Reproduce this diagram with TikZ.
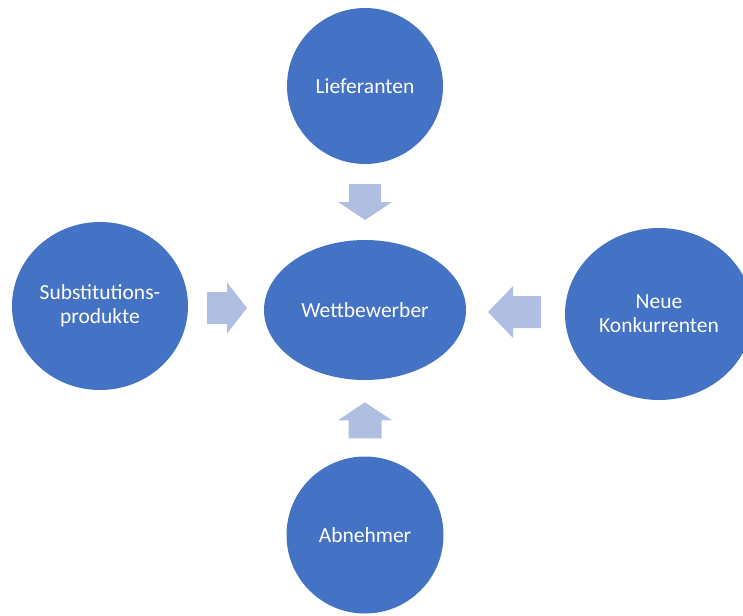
\documentclass[tikz,border=0pt]{standalone}
\usepackage{fontspec}
\setmainfont{Carlito}
\usetikzlibrary{shapes.geometric,calc}

\definecolor{kreisblau}{RGB}{68,114,196}
\definecolor{pfeilblau}{RGB}{176,190,226}

\tikzset{
  kraft/.style={ellipse,fill=kreisblau,text=white,inner sep=0pt,align=center,
    font=\fontsize{21.5}{24}\selectfont},
  pfeil/.style={fill=pfeilblau}
}

\begin{document}
\begin{tikzpicture}[x=1pt,y=-1pt]
  \useasboundingbox (0,0) rectangle (743,615);
  % die fuenf Kraefte
  \node[kraft,minimum width=202pt,minimum height=140pt] (wett) at (365,310) {Wettbewerber};
  \node[kraft,minimum size=156pt] (lief) at (365,86) {Lieferanten};
  \node[kraft,minimum width=176pt,minimum height=168pt] (subst) at (100,306) {Substitutions-\\produkte};
  \node[kraft,minimum width=188pt,minimum height=172pt] (neue) at (659,314) {Neue\\Konkurrenten};
  \node[kraft,minimum size=157pt] (abn) at (365,535) {Abnehmer};
  % Pfeile zur Mitte
  \coordinate (m1) at ($(lief.south)!0.5!(wett.north)$);
  \coordinate (m2) at ($(subst.east)!0.5!(wett.west)$);
  \coordinate (m3) at ($(neue.west)!0.5!(wett.east)$);
  \coordinate (m4) at ($(abn.north)!0.5!(wett.south)$);
  \fill[pfeil,shift={(m1)},rotate=-90] (-18,-16) -- (0,-16) -- (0,-27) -- (18,0) -- (0,27) -- (0,16) -- (-18,16) -- cycle;
  \fill[pfeil,shift={(m2)}] (-19,-16) -- (1,-16) -- (1,-25.5) -- (21,0) -- (1,25.5) -- (1,16) -- (-19,16) -- cycle;
  \fill[pfeil,shift={(m3)},rotate=180] (-25.5,-16) -- (2.5,-16) -- (2.5,-26) -- (27.5,0) -- (2.5,26) -- (2.5,16) -- (-25.5,16) -- cycle;
  \fill[pfeil,shift={(m4)},rotate=90] (-20,-16.5) -- (-2,-16.5) -- (-2,-27) -- (16,0) -- (-2,27) -- (-2,16.5) -- (-20,16.5) -- cycle;
\end{tikzpicture}
\end{document}
